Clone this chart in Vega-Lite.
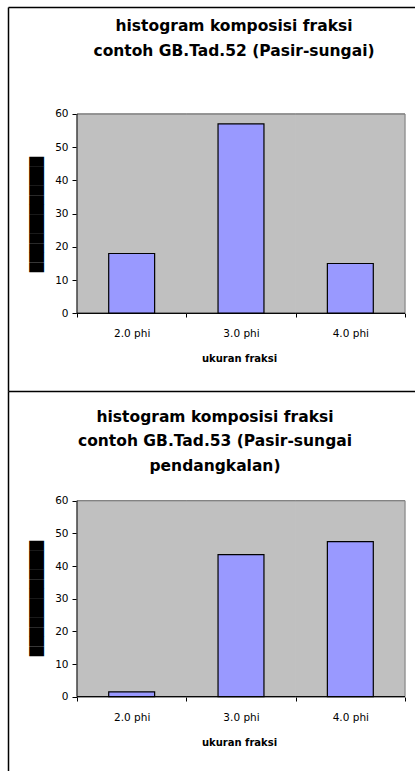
{
  "$schema": "https://vega.github.io/schema/vega-lite/v6.json",
  "padding": {"left": 8, "top": 7, "right": 0, "bottom": 0},
  "autosize": {"type": "pad"},
  "background": "white",
  "spacing": 0,
  "config": {
    "view": {"stroke": null},
    "axis": {"labelFont": "DejaVu Sans", "titleFont": "DejaVu Sans", "labelColor": "black", "titleColor": "black", "grid": false},
    "title": {"font": "DejaVu Sans", "fontWeight": "bold", "color": "black", "fontSize": 15.5, "lineHeight": 24.5, "anchor": "middle", "frame": "group"}
  },
  "datasets": {
    "gb52": [
      {"fraksi": "2.0 phi", "persen": 18},
      {"fraksi": "3.0 phi", "persen": 57},
      {"fraksi": "4.0 phi", "persen": 15}
    ],
    "gb53": [
      {"fraksi": "2.0 phi", "persen": 1.5},
      {"fraksi": "3.0 phi", "persen": 43.5},
      {"fraksi": "4.0 phi", "persen": 47.5}
    ]
  },
  "vconcat": [
    {
      "width": 407,
      "height": 384,
      "title": {"text": ["histogram komposisi fraksi", "contoh GB.Tad.52 (Pasir-sungai)"], "offset": -52, "dx": 22.5},
      "data": {"name": "gb52"},
      "layer": [
        {
          "mark": {"type": "rect", "fill": "#c0c0c0", "stroke": "#c0c0c0", "strokeWidth": 1},
          "encoding": {
            "x": {"field": "fraksi", "type": "nominal", "sort": null, "scale": {"type": "band", "paddingInner": 0, "paddingOuter": 0.3613, "align": 0.8734}, "axis": {"orient": "top", "domain": true, "domainColor": "black", "domainWidth": 1.5, "ticks": false, "labels": false, "title": null}},
            "y": {"datum": 60, "type": "quantitative", "scale": {"domain": [-23.39, 92.21], "nice": false, "zero": false}, "axis": {"orient": "left", "offset": 0, "domain": true, "domainColor": "black", "domainWidth": 1.5, "ticks": false, "labels": false, "title": null}},
            "y2": {"datum": 0}
          }
        },
        {
          "mark": {"type": "rect", "fill": null, "stroke": "#808080", "strokeWidth": 1},
          "encoding": {
            "x": {"field": "fraksi", "type": "nominal", "sort": null, "axis": null},
            "y": {"datum": 60, "type": "quantitative", "axis": null},
            "y2": {"datum": 60}
          }
        },
        {
          "transform": [{"filter": "datum.fraksi === '4.0 phi'"}],
          "mark": {"type": "rule", "stroke": "#808080", "strokeWidth": 1},
          "encoding": {
            "x": {"field": "fraksi", "type": "nominal", "sort": null, "bandPosition": 1, "axis": null},
            "y": {"datum": 0, "type": "quantitative", "axis": null},
            "y2": {"datum": 60}
          }
        },
        {
          "mark": {"type": "bar", "width": {"band": 0.42}, "fill": "#9999ff", "stroke": "black", "strokeWidth": 1.2},
          "encoding": {
            "x": {"field": "fraksi", "type": "nominal", "sort": null, "axis": {"orient": "bottom", "offset": -78, "domain": false, "ticks": true, "tickSize": 4, "tickColor": "black", "tickBand": "extent", "labelAngle": 0, "labelBaseline": "alphabetic", "labelPadding": 19, "labelFontSize": 10.5, "title": "ukuran fraksi", "titleFontSize": 10, "titleFontWeight": "bold", "titleBaseline": "alphabetic", "titlePadding": 23, "titleX": 231}},
            "y": {"field": "persen", "type": "quantitative", "axis": {"orient": "left", "offset": -69, "domain": false, "values": [0, 10, 20, 30, 40, 50, 60], "tickSize": 5, "tickColor": "black", "labelPadding": 4, "labelFontSize": 10.5, "title": "████████████", "titleFontSize": 12.5, "titleFontWeight": "normal", "titlePadding": 11, "titleY": 207}},
            "y2": {"datum": 0}
          }
        },
        {
          "mark": {"type": "rect", "fill": null, "stroke": "black", "strokeWidth": 1},
          "encoding": {
            "x": {"field": "fraksi", "type": "nominal", "sort": null, "axis": null},
            "y": {"datum": 0, "type": "quantitative", "axis": null},
            "y2": {"datum": 0}
          }
        },
        {
          "transform": [{"filter": "datum.fraksi === '2.0 phi'"}],
          "mark": {"type": "rule", "stroke": "black", "strokeWidth": 1},
          "encoding": {
            "x": {"field": "fraksi", "type": "nominal", "sort": null, "bandPosition": 0, "axis": null},
            "y": {"datum": 0, "type": "quantitative", "axis": null},
            "y2": {"datum": 60}
          }
        }
      ],
      "resolve": {"axis": {"x": "independent", "y": "independent"}}
    },
    {
      "width": 407,
      "height": 380,
      "title": {"text": ["histogram komposisi fraksi", "contoh GB.Tad.53 (Pasir-sungai", "pendangkalan)"], "offset": -83, "dx": 3.5},
      "data": {"name": "gb53"},
      "layer": [
        {
          "mark": {"type": "rect", "fill": "#c0c0c0", "stroke": "#c0c0c0", "strokeWidth": 1},
          "encoding": {
            "x": {"field": "fraksi", "type": "nominal", "sort": null, "scale": {"type": "band", "paddingInner": 0, "paddingOuter": 0.3613, "align": 0.8734}, "axis": {"orient": "top", "domain": true, "domainColor": "black", "domainWidth": 1.5, "ticks": false, "labels": false, "title": null}},
            "y": {"datum": 60, "type": "quantitative", "scale": {"domain": [-22.74, 93.58], "nice": false, "zero": false}, "axis": {"orient": "left", "offset": 0, "domain": true, "domainColor": "black", "domainWidth": 1.5, "ticks": false, "labels": false, "title": null}},
            "y2": {"datum": 0}
          }
        },
        {
          "mark": {"type": "rect", "fill": null, "stroke": "#808080", "strokeWidth": 1},
          "encoding": {
            "x": {"field": "fraksi", "type": "nominal", "sort": null, "axis": null},
            "y": {"datum": 60, "type": "quantitative", "axis": null},
            "y2": {"datum": 60}
          }
        },
        {
          "transform": [{"filter": "datum.fraksi === '4.0 phi'"}],
          "mark": {"type": "rule", "stroke": "#808080", "strokeWidth": 1},
          "encoding": {
            "x": {"field": "fraksi", "type": "nominal", "sort": null, "bandPosition": 1, "axis": null},
            "y": {"datum": 0, "type": "quantitative", "axis": null},
            "y2": {"datum": 60}
          }
        },
        {
          "mark": {"type": "bar", "width": {"band": 0.42}, "fill": "#9999ff", "stroke": "black", "strokeWidth": 1.2},
          "encoding": {
            "x": {"field": "fraksi", "type": "nominal", "sort": null, "axis": {"orient": "bottom", "offset": -74, "domain": false, "ticks": true, "tickSize": 4, "tickColor": "black", "tickBand": "extent", "labelAngle": 0, "labelBaseline": "alphabetic", "labelPadding": 19, "labelFontSize": 10.5, "title": "ukuran fraksi", "titleFontSize": 10, "titleFontWeight": "bold", "titleBaseline": "alphabetic", "titlePadding": 23, "titleX": 231}},
            "y": {"field": "persen", "type": "quantitative", "axis": {"orient": "left", "offset": -69, "domain": false, "values": [0, 10, 20, 30, 40, 50, 60], "tickSize": 5, "tickColor": "black", "labelPadding": 4, "labelFontSize": 10.5, "title": "████████████", "titleFontSize": 12.5, "titleFontWeight": "normal", "titlePadding": 11, "titleY": 207}},
            "y2": {"datum": 0}
          }
        },
        {
          "mark": {"type": "rect", "fill": null, "stroke": "black", "strokeWidth": 1},
          "encoding": {
            "x": {"field": "fraksi", "type": "nominal", "sort": null, "axis": null},
            "y": {"datum": 0, "type": "quantitative", "axis": null},
            "y2": {"datum": 0}
          }
        },
        {
          "transform": [{"filter": "datum.fraksi === '2.0 phi'"}],
          "mark": {"type": "rule", "stroke": "black", "strokeWidth": 1},
          "encoding": {
            "x": {"field": "fraksi", "type": "nominal", "sort": null, "bandPosition": 0, "axis": null},
            "y": {"datum": 0, "type": "quantitative", "axis": null},
            "y2": {"datum": 60}
          }
        }
      ],
      "resolve": {"axis": {"x": "independent", "y": "independent"}}
    }
  ]
}
